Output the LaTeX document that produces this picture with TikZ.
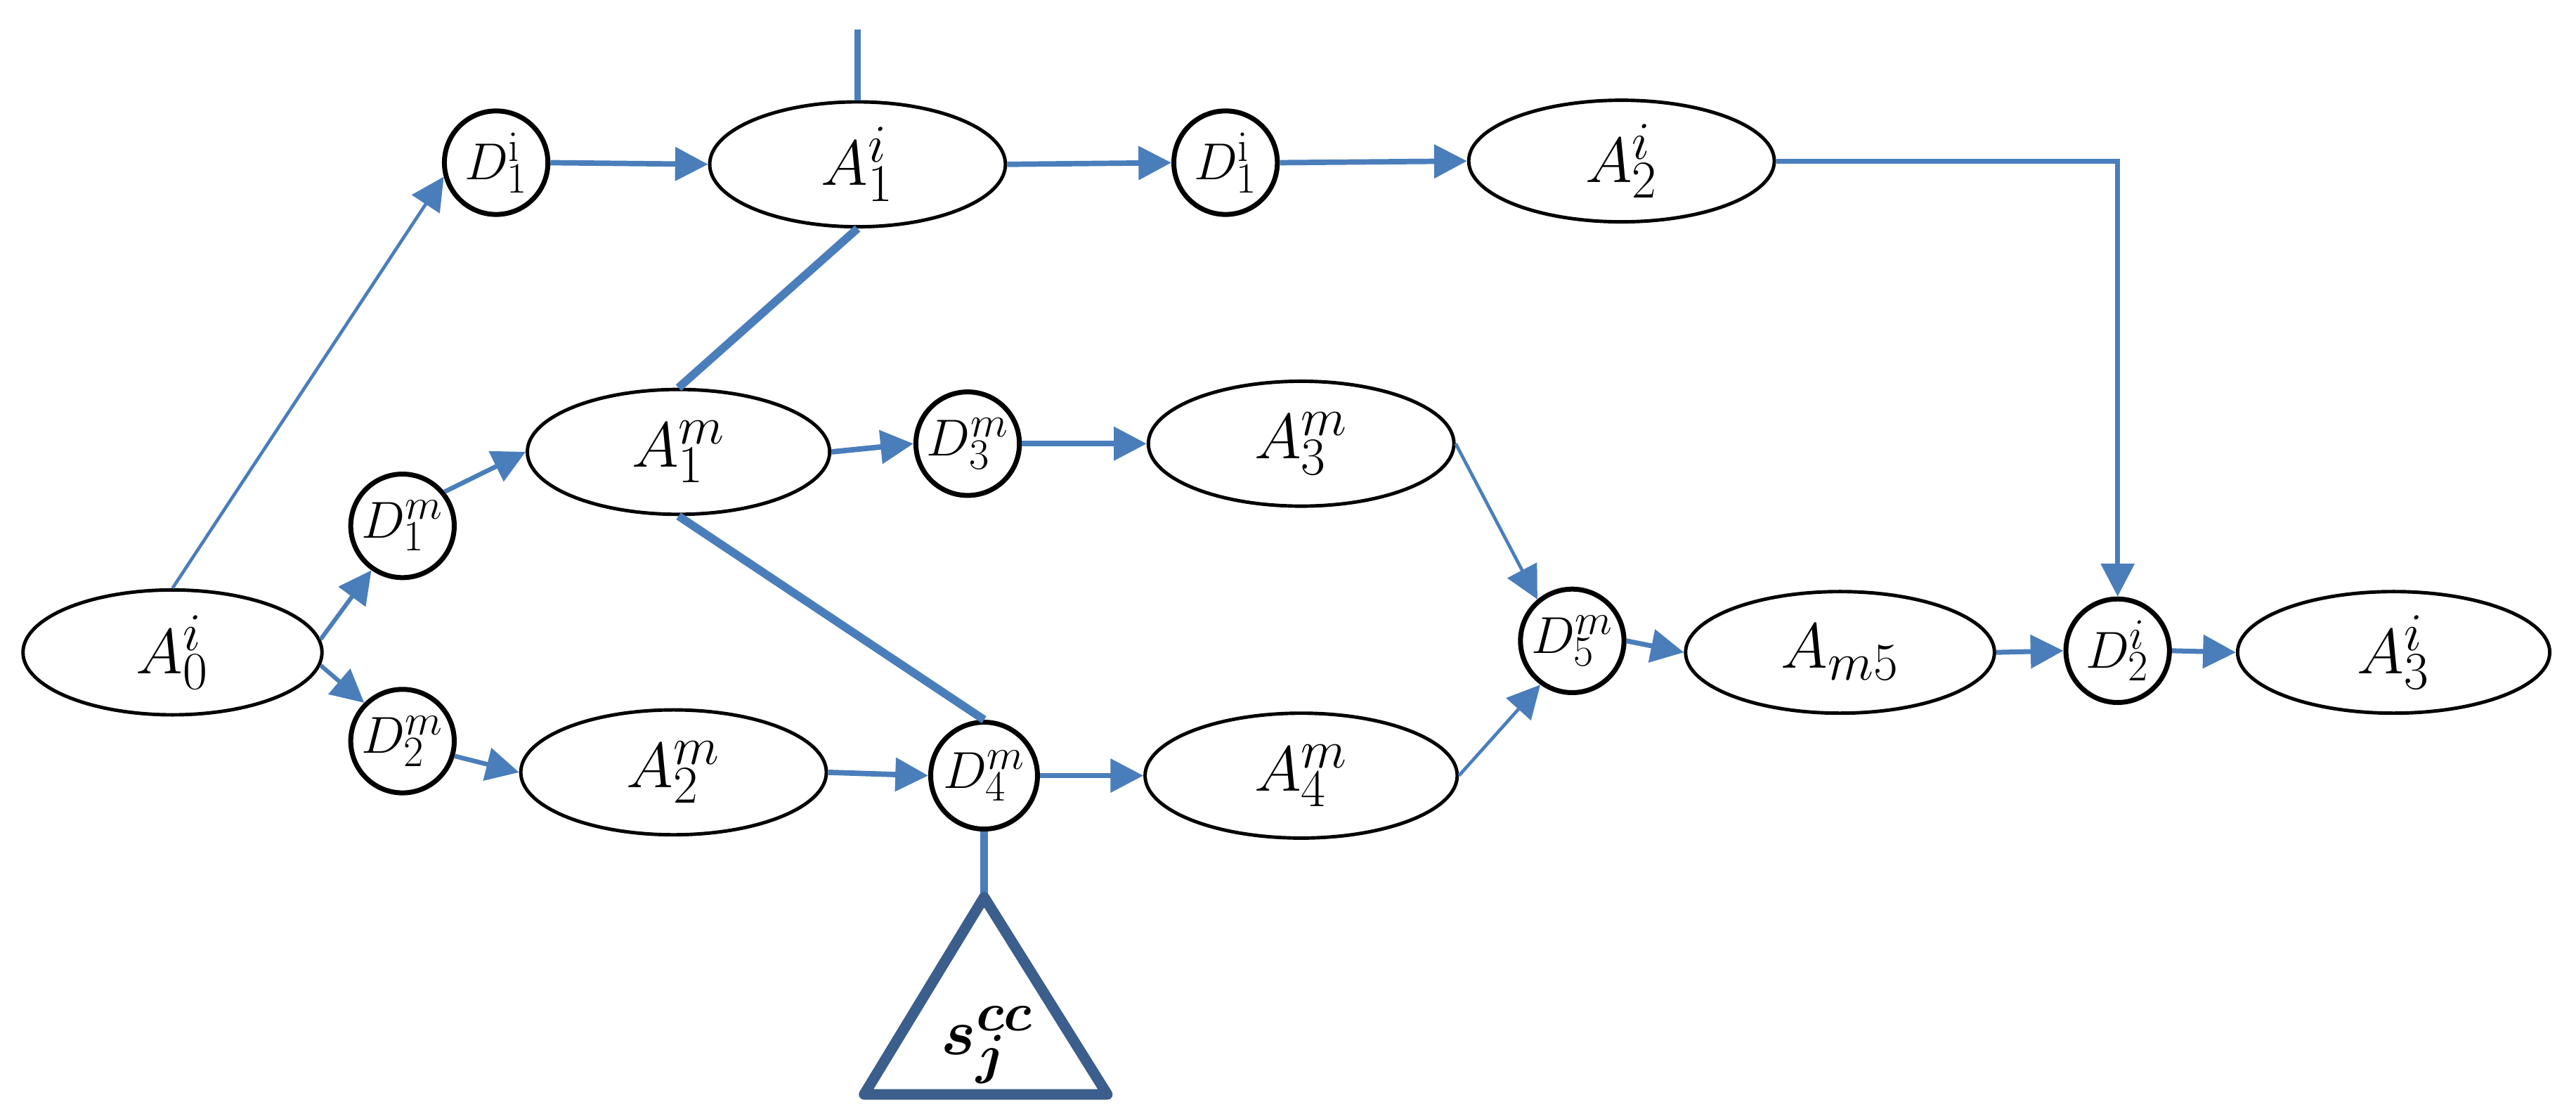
\documentclass[tikz,border=0pt]{standalone}
\usepackage{bm}
\usepackage{graphicx}
\usetikzlibrary{shapes.geometric,arrows.meta}
\definecolor{lblue}{HTML}{4A7EBB}
\definecolor{tblue}{HTML}{3B5E8C}
\newcommand{\albl}[1]{\scalebox{1.56}{\Huge$#1$}}
\newcommand{\dlbl}[1]{\scalebox{1.27}{\Huge$#1$}}
\begin{document}
\begin{tikzpicture}[x=1pt,y=-1pt,
  act/.style={draw=black,line width=2.1pt,ellipse,minimum width=182pt,minimum height=76pt,inner sep=0pt},
  dec/.style={draw=black,line width=3pt,circle,minimum size=63pt,inner sep=0pt},
  arr/.style={draw=lblue,line width=3.3pt,-{Triangle[length=20pt,width=20pt]}},
  thinarr/.style={arr,line width=2pt},
  link/.style={draw=lblue,line width=5pt},
]
\useasboundingbox (0,0) rectangle (1568,677.5);
% nodes
\node[act] (A0) at (105,397) {\albl{A_0^i}};
\node[dec] (D1a) at (302,99) {\dlbl{D_1^{\mathrm{i}}}};
\node[act,minimum width=180pt] (A1i) at (522,100) {\albl{A_1^i}};
\node[dec] (D1b) at (746,99) {\dlbl{D_1^{\mathrm{i}}}};
\node[act,minimum width=186pt,minimum height=74pt] (A2i) at (987,98) {\albl{A_2^i}};
\node[dec] (D1m) at (245,320) {\dlbl{D_1^m}};
\node[dec] (D2m) at (245,451) {\dlbl{D_2^m}};
\node[act,minimum width=184pt] (A1m) at (413,275) {\albl{A_1^m}};
\node[dec] (D3m) at (589,270) {\dlbl{D_3^m}};
\node[act,minimum width=186pt] (A3m) at (792,270) {\albl{A_3^m}};
\node[act,minimum width=186pt] (A2m) at (410,470) {\albl{A_2^m}};
\node[dec,minimum size=65pt] (D4m) at (599,472) {\dlbl{D_4^m}};
\node[act,minimum width=190pt] (A4m) at (792,472) {\albl{A_4^m}};
\node[dec] (D5m) at (957,390) {\dlbl{D_5^m}};
\node[act,minimum width=188pt,minimum height=74pt] (Am5) at (1120,397) {\albl{A_{m5}}};
\node[dec] (D2i) at (1289,396) {\dlbl{D_2^i}};
\node[act,minimum width=190pt,minimum height=74pt] (A3i) at (1457,397) {\albl{A_3^i}};
\coordinate (top) at (522,18);
\coordinate (apexin) at (599,558);
% thick links
\draw[link,line width=3.8pt] (A1i.north) -- (top);
\draw[link] (A1i.south) -- (A1m.north);
\draw[link] (A1m.south) -- (D4m.north);
\draw[link] (D4m.south) -- (apexin);
% arrows
\draw[thinarr] (A0.north) -- (D1a.195);
\draw[arr] (D1a.east) -- (A1i.west);
\draw[arr] (A1i.east) -- (D1b.west);
\draw[arr] (D1b.east) -- (A2i.west);
\draw[arr,line width=3pt] (A2i.east) -| (D2i.north);
\draw[thinarr,line width=2.6pt] (A0.5) -- (D1m.235);
\draw[thinarr,line width=2.6pt] (A0.-5) -- (D2m.135);
\draw[thinarr,line width=2.8pt] (D1m.39) -- (A1m.west);
\draw[thinarr,line width=2.8pt] (D2m.-16) -- (A2m.west);
\draw[arr] (A1m.east) -- (D3m.west);
\draw[arr] (D3m.east) -- (A3m.west);
\draw[arr] (A2m.east) -- (D4m.west);
\draw[arr] (D4m.east) -- (A4m.west);
\draw[thinarr] (A3m.east) -- (D5m.130);
\draw[thinarr] (A4m.east) -- (D5m.234);
\draw[arr,line width=3pt] (D5m.east) -- (Am5.west);
\draw[arr,line width=3pt] (Am5.east) -- (D2i.west);
\draw[arr,line width=3pt] (D2i.east) -- (A3i.west);
% triangle
\draw[tblue,line width=6.5pt,line join=round,fill=white] (599,546) -- (674,666) -- (526,666) -- cycle;
\node (S) at (601,636) {\scalebox{1.6}{\Huge$\bm{s_j^{cc}}$}};
\end{tikzpicture}
\end{document}
